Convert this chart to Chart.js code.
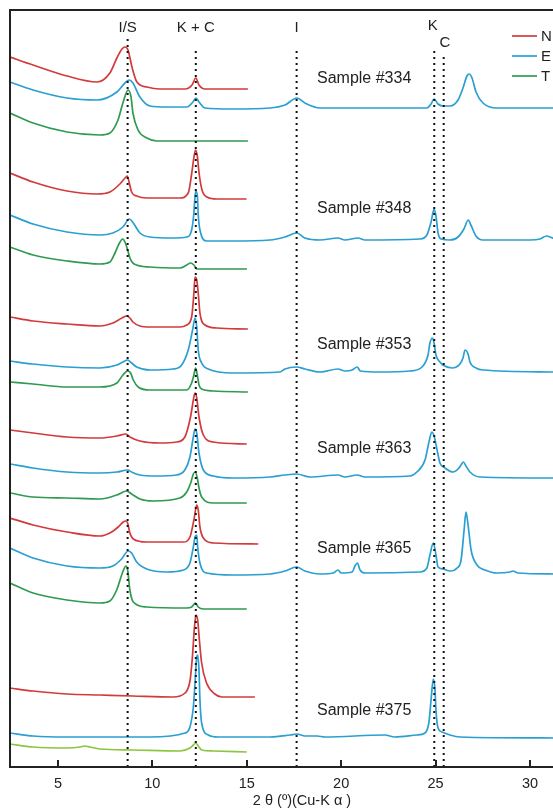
<!DOCTYPE html>
<html><head><meta charset="utf-8">
<script src="https://cdn.jsdelivr.net/npm/chart.js@4.4.1/dist/chart.umd.min.js"></script>
<style>
html,body{margin:0;padding:0;background:#fff;overflow:hidden;width:553px;height:810px}
#wrap{width:553px;height:810px;overflow:hidden;position:relative}
canvas{display:block}
</style></head><body>
<div id="wrap"><canvas id="c" width="600" height="810"></canvas></div>
<script>
// ---- series meta ----
const seriesNames = ['N', 'E', 'T'];
const seriesColors = ['#d23a3c', '#2a9fd2', '#2f9a50'];
const lightGreen = '#8dc540';
const sampleNames = ['Sample #334', 'Sample #348', 'Sample #353', 'Sample #363', 'Sample #365', 'Sample #375'];
const sampleLabelX = 18.72;
const sampleLabelY = [688, 558, 422, 318, 218, 56];
const peakLabels = ['I/S', 'K + C', 'I', 'K', 'C'];
const peakPos = [8.69, 12.3, 17.64, 24.93, 25.43];
const peakLineTop = [730, 720, 720, 720, 714];
const peakLabelX = [8.69, 12.3, 17.64, 24.85, 25.5];
const peakLabelY = [739, 739, 739, 741, 724];

// ---- traces: [2theta, offset intensity] ----
const s334N = [[2.46,710],[3.68,702],[5.48,691],[7.07,685],[7.75,694],[8.12,709],[8.39,718],[8.55,720],[8.71,717],[8.92,700],[9.18,685],[9.71,680],[10.4,678],[11.73,678],[12.10,682],[12.30,689],[12.47,682],[12.79,678],[15.06,678]];
const s334E = [[2.46,685],[3.68,677],[5.48,669],[7.07,667],[8.12,675],[8.55,684],[8.78,687],[8.97,684],[9.34,670],[9.87,661],[10.77,660],[11.83,660],[12.15,665],[12.31,669],[12.47,665],[12.79,659],[14.27,658],[16.23,659],[17.02,662],[17.66,669],[18.08,664],[18.88,659],[24.54,659],[24.76,663],[24.92,668],[25.13,663],[25.39,661],[25.76,661],[26.19,667],[26.45,679],[26.66,691],[26.78,693],[26.93,689],[27.14,675],[27.51,664],[28.25,659],[31.3,659]];
const s334T = [[2.46,654],[3.68,644],[5.48,635],[7.22,632],[7.75,634],[8.18,647],[8.44,664],[8.72,677],[8.87,670],[8.97,654],[9.24,637],[9.71,629],[10.24,626],[15.06,626]];

const s348N = [[2.46,594],[3.68,585],[5.48,576],[7.07,573],[7.75,575],[8.28,583],[8.60,590],[8.67,591],[8.78,584],[8.90,575],[9.17,571],[9.70,569],[11.46,569],[11.90,574],[12.08,593],[12.22,612],[12.29,617],[12.38,611],[12.48,593],[12.63,577],[12.89,570],[13.42,568],[14.99,568]];
const s348E = [[2.46,552],[3.68,543],[5.48,535],[7.22,532],[7.91,534],[8.44,540],[8.78,548],[8.99,544],[9.34,534],[9.87,530],[11.09,529],[11.83,530],[12.08,537],[12.19,552],[12.29,576],[12.38,572],[12.43,552],[12.52,537],[12.89,526],[14.27,526],[16.23,527],[17.02,530],[17.64,534],[18.08,529],[18.88,527],[19.83,529],[20.20,527],[20.89,529],[21.26,527],[24.17,528],[24.54,532],[24.76,545],[24.92,558],[25.02,551],[25.13,534],[25.29,528],[25.76,527],[26.19,530],[26.50,538],[26.73,547],[26.87,542],[27.14,531],[27.51,527],[30.0,527],[30.53,528],[30.88,531],[31.3,528]];
const s348T = [[2.46,520],[3.68,512],[5.48,506],[7.22,503],[7.75,505],[8.02,514],[8.23,523],[8.43,528],[8.55,525],[8.69,517],[8.81,509],[9.03,503],[9.87,500],[11.46,499],[11.82,502],[12.03,504],[12.20,502],[12.36,498],[15.01,498]];

const s353N = [[2.46,450],[3.68,446],[5.48,443],[7.22,441],[7.91,444],[8.39,449],[8.64,451],[8.81,449],[8.97,445],[9.34,441],[9.87,440],[11.46,440],[11.82,442],[12.08,450],[12.20,474],[12.26,490],[12.35,487],[12.43,474],[12.52,454],[12.79,442],[13.41,439],[15.06,438]];
const s353E = [[2.46,406],[3.68,403],[5.48,400],[7.22,399],[8.12,402],[8.44,405],[8.69,407],[8.90,404],[9.17,400],[9.87,397],[11.09,398],[11.55,402],[11.90,417],[12.13,437],[12.26,449],[12.35,440],[12.43,417],[12.61,404],[12.96,398],[14.27,394],[16.76,395],[17.02,398],[17.64,400],[18.08,398],[18.88,395],[19.83,398],[20.20,396],[20.58,397],[20.84,400],[21.02,396],[22.06,395],[23.64,396],[24.28,400],[24.60,412],[24.70,424],[24.83,429],[24.92,424],[25.02,412],[25.23,405],[25.39,402],[25.87,399],[26.29,403],[26.45,409],[26.56,417],[26.72,413],[26.82,405],[27.14,399],[27.51,397],[31.3,395]];
const s353T = [[2.46,385],[3.68,383],[5.48,380],[7.22,380],[8.12,384],[8.44,392],[8.69,396],[8.85,394],[8.99,387],[9.25,380],[9.87,377],[11.82,377],[12.08,384],[12.20,392],[12.29,399],[12.38,392],[12.47,382],[12.61,378],[13.23,376],[15.06,375]];

const s363N = [[2.46,337],[3.68,334],[5.48,330],[7.22,329],[8.12,331],[8.60,333],[8.81,330],[9.34,326],[10.40,324],[11.28,325],[11.72,330],[12.02,350],[12.20,370],[12.26,374],[12.35,369],[12.47,350],[12.70,332],[13.23,325],[15.0,323]];
const s363E = [[2.46,303],[3.68,299],[5.48,295],[7.22,294],[8.12,295],[8.69,297],[8.90,295],[9.34,292],[10.22,291],[11.28,292],[11.72,297],[11.99,310],[12.17,330],[12.26,338],[12.35,334],[12.47,314],[12.70,297],[13.23,291],[14.27,289],[16.23,290],[17.02,292],[17.64,293],[18.35,290],[19.83,292],[20.20,290],[20.84,292],[21.26,290],[23.64,291],[24.01,295],[24.44,307],[24.65,325],[24.80,335],[24.92,331],[25.08,317],[25.23,304],[25.50,299],[25.92,295],[26.19,298],[26.35,302],[26.47,305],[26.61,301],[26.82,295],[27.35,290],[31.3,289]];
const s363T = [[2.46,274],[3.68,270],[5.48,269],[7.22,268],[8.12,272],[8.64,276],[8.90,273],[9.34,268],[10.05,266],[11.46,269],[11.82,275],[12.03,284],[12.17,293],[12.27,295],[12.38,289],[12.47,279],[12.61,270],[13.23,264],[15.0,264]];

const s365N = [[2.46,249],[3.68,242],[5.48,235],[7.22,231],[7.75,234],[8.19,240],[8.46,245],[8.59,246],[8.69,244],[8.81,234],[8.99,228],[9.70,225],[11.64,225],[11.99,230],[12.20,247],[12.35,262],[12.43,257],[12.52,240],[12.70,229],[13.23,224],[15.61,223]];
const s365E = [[2.46,219],[3.68,209],[5.48,201],[7.22,199],[7.91,201],[8.37,208],[8.72,216],[8.90,214],[9.17,205],[9.70,198],[10.76,195],[11.64,197],[11.99,204],[12.17,220],[12.26,230],[12.35,232],[12.40,220],[12.52,204],[12.88,194],[14.27,192],[16.23,193],[17.02,196],[17.64,200],[18.08,196],[18.88,193],[19.57,194],[19.83,197],[20.0,194],[20.58,195],[20.73,201],[20.86,204],[21.0,197],[21.26,194],[24.17,195],[24.54,199],[24.70,212],[24.88,224],[25.02,212],[25.13,200],[25.39,198],[25.76,196],[26.14,199],[26.35,207],[26.51,237],[26.61,255],[26.72,242],[26.88,217],[27.19,202],[27.62,197],[28.25,194],[28.94,195],[29.10,196],[29.36,194],[31.3,193]];
const s365T = [[2.46,184],[3.68,174],[5.48,167],[7.22,164],[7.75,166],[8.11,177],[8.43,195],[8.60,201],[8.69,197],[8.81,177],[8.99,165],[9.70,160],[11.82,159],[12.08,160],[12.29,164],[12.43,160],[12.70,158],[15.0,158]];

const s375N = [[2.46,79],[3.68,76],[5.48,73],[7.22,72],[8.97,71],[11.09,70],[11.73,74],[12.00,87],[12.12,110],[12.23,140],[12.31,152],[12.40,147],[12.49,127],[12.61,104],[12.87,84],[13.31,73],[13.68,70],[15.43,70]];
const s375E = [[2.46,34],[3.68,31],[5.48,30],[7.22,30],[9.87,30],[11.73,34],[11.99,40],[12.17,60],[12.26,84],[12.35,110],[12.40,112],[12.47,97],[12.52,67],[12.61,44],[12.96,32],[13.49,30],[16.23,30],[17.29,32],[17.66,33],[18.08,31],[18.72,31],[19.14,30],[22.31,32],[22.84,30],[24.01,32],[24.44,34],[24.65,45],[24.76,67],[24.88,88],[24.97,77],[25.02,57],[25.13,39],[25.34,35],[25.76,32],[26.29,30],[31.3,29]];
const s375T = [[2.46,23],[3.68,20],[5.48,19],[6.17,20],[6.43,21],[6.69,20],[7.22,18],[8.97,17],[11.46,16],[11.99,19],[12.17,22],[12.29,24],[12.43,21],[12.61,17],[13.23,16],[15.0,15]];

const traces = [
  [s334N,0],[s334E,1],[s334T,2],
  [s348N,0],[s348E,1],[s348T,2],
  [s353N,0],[s353E,1],[s353T,2],
  [s363N,0],[s363E,1],[s363T,2],
  [s365N,0],[s365E,1],[s365T,2],
  [s375N,0],[s375E,1],[s375T,3]
];

const FONT = "'Liberation Sans', Arial, Helvetica, sans-serif";
const INK = '#222';

const datasets = [];
peakPos.forEach((p, i) => {
  datasets.push({
    data: [{x: p, y: 0}, {x: p, y: peakLineTop[i]}],
    borderColor: '#111', borderWidth: 2, borderDash: [2, 4], borderCapStyle: 'butt',
    pointRadius: 0, tension: 0, order: 0
  });
});
traces.forEach(([arr, s]) => {
  datasets.push({
    data: arr.map(([x, y]) => ({x, y})),
    borderColor: s === 3 ? lightGreen : seriesColors[s],
    borderWidth: 1.7, pointRadius: 0,
    cubicInterpolationMode: 'monotone', order: 1
  });
});

const decor = {
  id: 'decor',
  afterDatasetsDraw(chart) {
    const {ctx, chartArea: a, scales: {x, y}} = chart;
    ctx.save();
    // frame
    ctx.strokeStyle = INK; ctx.lineWidth = 2;
    ctx.beginPath();
    ctx.moveTo(a.right + 5, a.top); ctx.lineTo(a.left, a.top);
    ctx.lineTo(a.left, a.bottom); ctx.lineTo(a.right + 5, a.bottom);
    ctx.stroke();
    // inward ticks
    x.ticks.forEach(t => {
      const px = Math.round(x.getPixelForValue(t.value));
      ctx.beginPath(); ctx.moveTo(px, a.bottom); ctx.lineTo(px, a.bottom - 7); ctx.stroke();
    });
    // peak labels
    ctx.fillStyle = INK; ctx.textBaseline = 'middle';
    ctx.font = '15px ' + FONT; ctx.textAlign = 'center';
    peakLabels.forEach((t, i) => ctx.fillText(t, x.getPixelForValue(peakLabelX[i]), y.getPixelForValue(peakLabelY[i])));
    // sample labels
    ctx.font = '16px ' + FONT; ctx.textAlign = 'left';
    sampleNames.forEach((t, i) => ctx.fillText(t, x.getPixelForValue(sampleLabelX), y.getPixelForValue(sampleLabelY[i])));
    // legend
    ctx.font = '15px ' + FONT;
    seriesNames.forEach((n, i) => {
      const ly = a.top + 26 + i * 20;
      const lx = a.left + 502;
      ctx.strokeStyle = seriesColors[i]; ctx.lineWidth = 1.7;
      ctx.beginPath(); ctx.moveTo(lx, ly); ctx.lineTo(lx + 25, ly); ctx.stroke();
      ctx.fillText(n, lx + 29, ly + 1);
    });
    ctx.restore();
  }
};

new Chart(document.getElementById('c'), {
  type: 'line',
  data: {datasets},
  options: {
    responsive: false, animation: false, devicePixelRatio: 1,
    layout: {padding: {left: 10, top: 10, right: 6, bottom: 0}, autoPadding: false},
    plugins: {legend: {display: false}, tooltip: {enabled: false}},
    scales: {
      x: {
        type: 'linear', min: 2.46, max: 33.39,
        grid: {display: false, drawTicks: false},
        border: {display: false},
        ticks: {stepSize: 5, includeBounds: false, padding: 8, color: INK, font: {size: 14.5, family: FONT}},
        title: {display: true, text: '2 θ (º)(Cu-K α )', color: INK, font: {size: 14.5, family: FONT}, padding: {top: 0, bottom: 0}},
        afterFit(s) { s.height = 43; }
      },
      y: {type: 'linear', display: false, min: 0, max: 757}
    }
  },
  plugins: [decor]
});
</script>
</body></html>
